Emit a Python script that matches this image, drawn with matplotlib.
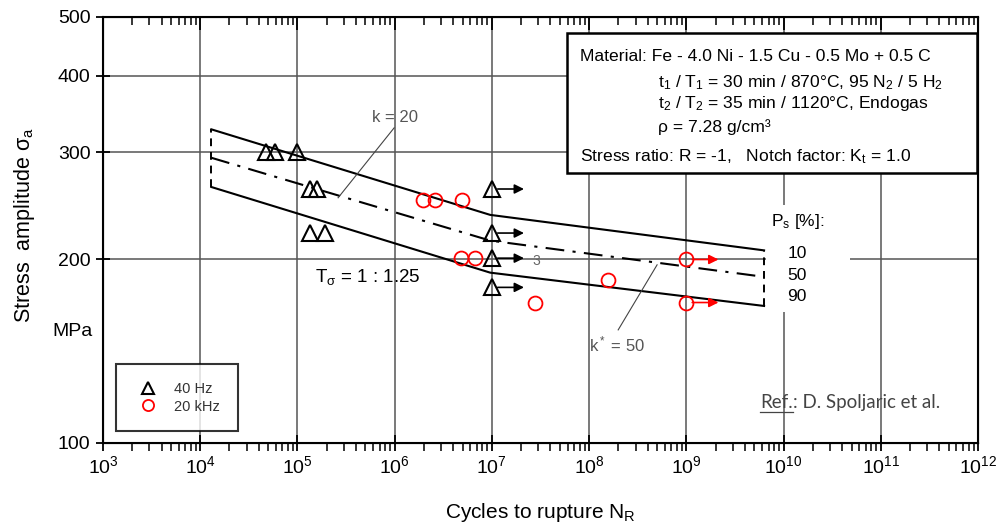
import numpy as np
import matplotlib.pyplot as plt
from matplotlib.patches import Rectangle
from matplotlib.lines import Line2D

plt.rcParams['font.family'] = ['Liberation Sans', 'DejaVu Sans']
plt.rcParams['mathtext.fontset'] = 'custom'
plt.rcParams['mathtext.rm'] = 'Liberation Sans'
plt.rcParams['mathtext.it'] = 'Liberation Sans:italic'
plt.rcParams['mathtext.sf'] = 'Liberation Sans'

# 40 Hz tests (broken specimens)
tri_N = [4.75e4, 5.9e4, 1.0e5, 1.35e5, 1.6e5, 1.35e5, 1.9e5]
tri_S = [300, 300, 300, 261, 261, 221, 221]
# 40 Hz run-outs at 1e7
tri_run_N = [1e7, 1e7, 1e7, 1e7]
tri_run_S = [261, 221, 201, 180]

# 20 kHz tests
circ_N = [1.96e6, 2.6e6, 4.9e6, 4.8e6, 6.7e6, 2.78e7, 1.57e8]
circ_S = [250, 250, 250, 201, 201, 170, 185]
circ_run_N = [1e9, 1e9]
circ_run_S = [200, 170]

# S-N scatter band (Ps = 10 / 50 / 90 %)
band_N = [1.3e4, 9.6e6, 6.3e9]
band_10 = [327, 236.7, 207]
band_50 = [293.7, 214.8, 187.3]
band_90 = [263, 190.3, 167.8]

fig = plt.figure(figsize=(9.98, 5.28), dpi=100)
ax = fig.add_axes([0.1032, 0.161, 0.8768, 0.807])
ax.set_xscale('log')
ax.set_yscale('log')
ax.set_xlim(1e3, 1e12)
ax.set_ylim(100, 500)

# grid
for e in range(4, 12):
    ax.axvline(10.0 ** e, color='#555555', lw=1.1, zorder=1)
for s in [200, 300, 400]:
    ax.axhline(s, color='#555555', lw=1.1, zorder=1)

# white patch behind Ps labels
ax.add_patch(Rectangle((0.758, 0.3075), 0.096, 0.252, transform=ax.transAxes,
                       facecolor='white', edgecolor='none', zorder=2))

# band lines
ax.plot(band_N, band_10, color='black', lw=1.5, zorder=3)
ax.plot(band_N, band_90, color='black', lw=1.5, zorder=3)
ax.plot(band_N, band_50, color='black', lw=1.5, ls=(0, (9, 4, 1.5, 4)), zorder=3)
for i in [0, -1]:
    ax.plot([band_N[i], band_N[i]], [band_90[i], band_10[i]], color='black',
            lw=1.4, ls=(0, (4, 3)), zorder=3)

# data
ax.plot(tri_N + tri_run_N, tri_S + tri_run_S, ls='none', marker='^', ms=11,
        mfc='none', mec='black', mew=1.5, zorder=5)
ax.plot(circ_N + circ_run_N, circ_S + circ_run_S, ls='none', marker='o', ms=10,
        mfc='none', mec='red', mew=1.3, zorder=5)

# run-out arrows
for n, s in zip(tri_run_N, tri_run_S):
    ax.annotate('', xy=(n * 10 ** 0.33, s), xytext=(n * 10 ** 0.06, s),
                arrowprops=dict(arrowstyle='-|>', color='black', lw=1.2,
                                mutation_scale=14, shrinkA=0, shrinkB=0), zorder=4)
for n, s in zip(circ_run_N, circ_run_S):
    ax.annotate('', xy=(n * 10 ** 0.33, s), xytext=(n * 10 ** 0.06, s),
                arrowprops=dict(arrowstyle='-|>', color='red', lw=1.2,
                                mutation_scale=14, shrinkA=0, shrinkB=0), zorder=4)

# annotations
ax.text(1.0e6, 342, 'k = 20', ha='center', va='center', fontsize=12, color='#555555')
ax.plot([9.87e5, 2.62e5], [328.8, 252.5], color='#444444', lw=0.8, zorder=4)
ax.text(1.94e8, 145, 'k$^*$ = 50', ha='center', va='center', fontsize=12, color='#555555')
ax.plot([1.99e8, 5.0e8], [153.3, 196], color='#444444', lw=0.8, zorder=4)
ax.text(1.52e5, 187.3, r'T$_\mathrm{σ}$ = 1 : 1.25', ha='left', va='center', fontsize=13.5)
ax.text(2.85e7, 199, '3', ha='center', va='center', fontsize=10, color='#666666')
ax.text(1.4e10, 230.5, 'P$_\\mathrm{s}$ [%]:', ha='center', va='center', fontsize=12.5, zorder=6)
for lab, s in zip(['10', '50', '90'], [204.2, 188, 173.6]):
    ax.text(1.38e10, s, lab, ha='center', va='center', fontsize=12.5, zorder=6)
ax.text(-0.012, 0.2625, 'MPa', ha='right', va='center', fontsize=14,
        transform=ax.transAxes)

# info box
ax.add_patch(Rectangle((0.530, 0.634), 0.469, 0.328, transform=ax.transAxes,
                       facecolor='white', edgecolor='black', lw=1.8, zorder=6))
info = [
    (0.545, 0.908, 'Material: Fe - 4.0 Ni - 1.5 Cu - 0.5 Mo + 0.5 C'),
    (0.634, 0.845, 't$_1$ / T$_1$ = 30 min / 870°C, 95 N$_2$ / 5 H$_2$'),
    (0.634, 0.796, 't$_2$ / T$_2$ = 35 min / 1120°C, Endogas'),
    (0.634, 0.742, 'ρ = 7.28 g/cm³'),
    (0.545, 0.671, 'Stress ratio: R = -1,   Notch factor: K$_\\mathrm{t}$ = 1.0'),
]
for x, y, t in info:
    ax.text(x, y, t, transform=ax.transAxes, ha='left', va='center', fontsize=12.6, zorder=7)

# legend
ax.plot([], [], ls='none', marker='^', ms=9, mfc='none', mec='black', mew=1.5, label='40 Hz')
ax.plot([], [], ls='none', marker='o', ms=8, mfc='none', mec='red', mew=1.3, label='20 kHz')
leg = ax.legend(loc='lower left', bbox_to_anchor=(0.0149, 0.028), fontsize=10.5,
                frameon=True, fancybox=False, borderpad=1.2, handletextpad=0.8,
                labelspacing=0.25, borderaxespad=0)
leg.get_frame().set_edgecolor('black')
leg.get_frame().set_linewidth(1.5)
for t in leg.get_texts():
    t.set_color('#333333')

# reference
ref = ax.text(0.751, 0.096, 'Ref.', transform=ax.transAxes, ha='left', va='center',
              fontsize=13.5, family='Lato', color='#444444')
fig.canvas.draw()
bb = ref.get_window_extent()
ax.text(0.751 + bb.width / ax.bbox.width, 0.096, ': D. Spoljaric et al.',
        transform=ax.transAxes, ha='left', va='center', fontsize=13.5,
        family='Lato', color='#444444')
fig.add_artist(Line2D([bb.x0 / fig.bbox.width, bb.x1 / fig.bbox.width],
                      [(bb.y0 - 1) / fig.bbox.height] * 2, color='#444444', lw=0.9))

# ticks
ax.set_xticks([10.0 ** e for e in range(3, 13)])
ax.set_yticks([100, 200, 300, 400, 500])
ax.set_yticklabels(['100', '200', '300', '400', '500'])
ax.yaxis.set_minor_locator(plt.NullLocator())
ax.tick_params(axis='x', which='major', direction='inout', length=12, width=1.3,
               labelsize=14, pad=3)
ax.tick_params(axis='x', which='minor', direction='out', length=6, width=1.1)
ax.tick_params(axis='y', which='major', direction='inout', length=10, width=1.3,
               labelsize=14, pad=4)
for sp in ax.spines.values():
    sp.set_linewidth(1.5)

top = ax.twiny()
top.set_xscale('log')
top.set_xlim(1e3, 1e12)
top.tick_params(axis='x', which='both', direction='in', labeltop=False)
top.tick_params(axis='x', which='major', length=9, width=1.3)
top.tick_params(axis='x', which='minor', length=6, width=1.1)

fig.text(0.5411, 0.03, 'Cycles to rupture N$_\\mathrm{R}$', ha='center', va='center', fontsize=15)
fig.text(0.025, 0.574, 'Stress  amplitude σ$_\\mathrm{a}$', ha='center', va='center',
         rotation=90, fontsize=15.5)

fig.savefig('out.png', dpi=100)
